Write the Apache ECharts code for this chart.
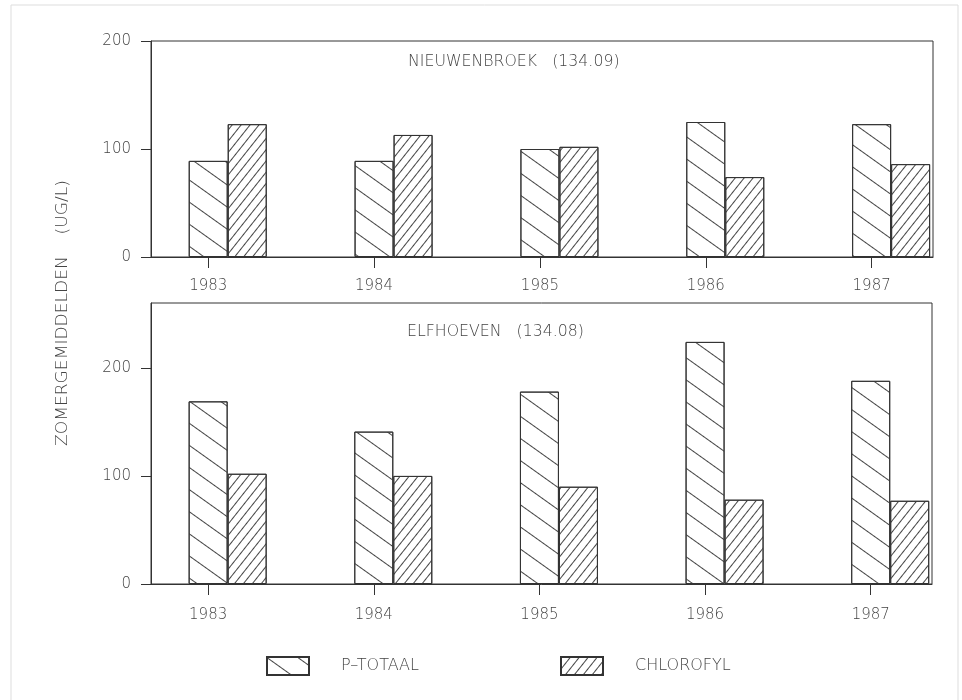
<!DOCTYPE html>
<html>
<head>
<meta charset="utf-8">
<script src="https://cdn.jsdelivr.net/npm/echarts@6/dist/echarts.min.js"></script>
<style>
  html, body { margin: 0; padding: 0; background: #fff; }
  #chart { width: 962px; height: 700px; }
</style>
</head>
<body>
<div id="chart"></div>
<script>
// Summer means (ug/l) per year for two sampling stations
const years = [1983, 1984, 1985, 1986, 1987];
const yTickValues = [0, 100, 200];

const nieuwenbroekPTotaal = [89, 89, 100, 125, 123];
const nieuwenbroekChlorofyl = [123, 113, 102, 74, 86];

const elfhoevenPTotaal = [169, 141, 178, 224, 188];
const elfhoevenChlorofyl = [102, 100, 90, 78, 77];

const seriesNames = ['P–TOTAAL', 'CHLOROFYL'];
const panelTitles = ['NIEUWENBROEK   (134.09)', 'ELFHOEVEN   (134.08)'];
const yAxisTitle = 'ZOMERGEMIDDELDEN    (UG/L)';

const FONT = '"DejaVu Sans", sans-serif';
const WEIGHT = 200;
const INK = '#333';
const TEXT = '#444';

// hatch patterns: back-slash for P-totaal, dense forward-slash for chlorofyl
const hatchP = {
  symbol: 'rect', symbolSize: 1, color: '#444', backgroundColor: 'rgba(0,0,0,0)',
  dashArrayX: [1, 0], dashArrayY: [1, 17], rotation: 0.62
};
const hatchChl = {
  symbol: 'rect', symbolSize: 1, color: '#444', backgroundColor: 'rgba(0,0,0,0)',
  dashArrayX: [1, 0], dashArrayY: [1, 6], rotation: -0.9
};

function xAxisFor(gridIndex, labelMargin) {
  return {
    type: 'value', gridIndex: gridIndex,
    min: 1982.655, max: 1987.37,
    axisLine: { show: true, onZero: false, lineStyle: { color: INK, width: 1 } },
    axisTick: { show: true, customValues: years, length: 11, lineStyle: { color: INK } },
    axisLabel: {
      customValues: years, margin: labelMargin, fontFamily: FONT, fontWeight: WEIGHT, fontSize: 15, color: TEXT,
      formatter: v => String(Math.round(v))
    },
    splitLine: { show: false }
  };
}

function yAxisFor(gridIndex, max) {
  return {
    type: 'value', gridIndex: gridIndex, min: 0, max: max,
    axisLine: { show: true, lineStyle: { color: INK, width: 1 } },
    axisTick: { show: true, customValues: yTickValues, length: 10, lineStyle: { color: INK } },
    axisLabel: { customValues: yTickValues, margin: 20, fontFamily: FONT, fontWeight: WEIGHT, fontSize: 15, color: TEXT },
    splitLine: { show: false }
  };
}

function pairs(values) {
  return years.map((y, i) => [y, values[i]]);
}

function barSeries(name, axisIndex, values, decal) {
  return {
    type: 'bar', name: name,
    xAxisIndex: axisIndex, yAxisIndex: axisIndex,
    barWidth: 39, barGap: '0%',
    data: pairs(values),
    itemStyle: { color: '#fff', borderColor: INK, borderWidth: 1, decal: decal },
    emphasis: { disabled: true },
    silent: true
  };
}

// empty leading column so that the P-totaal bar sits centred on its year tick
function spacerSeries(axisIndex) {
  return {
    type: 'bar', name: 'spacer', xAxisIndex: axisIndex, yAxisIndex: axisIndex,
    barWidth: 39, barGap: '0%', data: [], silent: true
  };
}

const legendCommon = {
  icon: 'rect', itemWidth: 42, itemHeight: 18, top: 656, padding: 0,
  selectedMode: false,
  textStyle: { fontFamily: FONT, fontWeight: WEIGHT, fontSize: 16, color: TEXT, padding: [0, 0, 0, 27] }
};

const option = {
  backgroundColor: '#fff',
  animation: false,
  grid: [
    { left: 151, right: 29, top: 41, height: 216, show: true, borderColor: INK, borderWidth: 1 },
    { left: 151, right: 30, top: 303, height: 281, show: true, borderColor: INK, borderWidth: 1 }
  ],
  xAxis: [xAxisFor(0, 22), xAxisFor(1, 24)],
  yAxis: [yAxisFor(0, 200), yAxisFor(1, 260)],
  legend: [
    Object.assign({}, legendCommon, { left: 266, data: [seriesNames[0]] }),
    Object.assign({}, legendCommon, { left: 560, data: [seriesNames[1]] })
  ],
  series: [
    spacerSeries(0),
    barSeries(seriesNames[0], 0, nieuwenbroekPTotaal, hatchP),
    barSeries(seriesNames[1], 0, nieuwenbroekChlorofyl, hatchChl),
    spacerSeries(1),
    barSeries(seriesNames[0], 1, elfhoevenPTotaal, hatchP),
    barSeries(seriesNames[1], 1, elfhoevenChlorofyl, hatchChl)
  ],
  graphic: [
    {
      type: 'rect', silent: true, z: -1,
      shape: { x: 11, y: 5, width: 947, height: 720 },
      style: { fill: 'none', stroke: '#ddd', lineWidth: 1 }
    },
    {
      type: 'text', x: 408, y: 62, scaleX: 1.05, silent: true,
      style: { text: panelTitles[0], font: WEIGHT + ' 15px ' + FONT, fill: TEXT, verticalAlign: 'middle' }
    },
    {
      type: 'text', x: 407, y: 332, scaleX: 1.05, silent: true,
      style: { text: panelTitles[1], font: WEIGHT + ' 15px ' + FONT, fill: TEXT, verticalAlign: 'middle' }
    },
    {
      type: 'text', x: 63, y: 313, rotation: Math.PI / 2, scaleX: 1.14, silent: true,
      style: { text: yAxisTitle, font: WEIGHT + ' 15px ' + FONT, fill: TEXT, align: 'center', verticalAlign: 'middle' }
    }
  ]
};

const chart = echarts.init(document.getElementById('chart'), null, { renderer: 'canvas' });
chart.setOption(option);
</script>
</body>
</html>
